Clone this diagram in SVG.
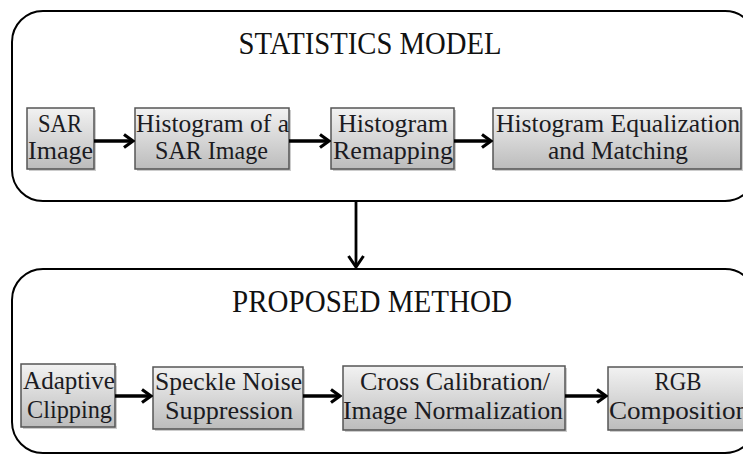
<svg xmlns="http://www.w3.org/2000/svg" width="743" height="455" viewBox="0 0 743 455">
<defs>
<linearGradient id="boxg" x1="0" y1="0" x2="0" y2="1">
<stop offset="0" stop-color="#f2f2f2"/>
<stop offset="1" stop-color="#bcbcbc"/>
</linearGradient>
<marker id="ah" viewBox="0 0 14 16" refX="12" refY="8" markerWidth="14" markerHeight="16" markerUnits="userSpaceOnUse" orient="auto">
<path d="M3,1.5 L12,8 L3,14.5" fill="none" stroke="#000" stroke-width="3.2" stroke-linejoin="miter"/>
</marker>
<marker id="ahv" viewBox="0 0 16 18" refX="14" refY="9" markerWidth="16" markerHeight="18" markerUnits="userSpaceOnUse" orient="auto">
<path d="M3,1.5 L14,9 L3,16.5" fill="none" stroke="#000" stroke-width="3" stroke-linejoin="miter"/>
</marker>
</defs>
<style>
.cont{fill:#fff;stroke:#000;stroke-width:2}
.box{fill:url(#boxg);stroke:#555;stroke-width:1.5}
.shadow{fill:#9a9a9a;opacity:0.5}
.title{font-family:"Liberation Serif","Times New Roman",serif;font-size:32px;fill:#111;text-anchor:middle}
.lbl{font-family:"Liberation Serif","Times New Roman",serif;font-size:25px;fill:#1b1b22;text-anchor:middle}
.conn{stroke:#000;stroke-width:3.5;fill:none;marker-end:url(#ah)}
.connv{stroke:#000;stroke-width:2.8;fill:none;marker-end:url(#ahv)}
</style>
<rect width="743" height="455" fill="#fff"/>

<g id="statistics-model">
<rect class="cont" x="12" y="11" width="744" height="190" rx="31" ry="31"/>
<text class="title" x="370" y="54" textLength="263" lengthAdjust="spacingAndGlyphs">STATISTICS MODEL</text>
</g>

<g id="proposed-method">
<rect class="cont" x="12" y="269" width="744" height="184" rx="31" ry="31"/>
<text class="title" x="372" y="312" textLength="280" lengthAdjust="spacingAndGlyphs">PROPOSED METHOD</text>
</g>

<g id="sar-image">
<rect class="shadow" x="29" y="110" width="67" height="61"/>
<rect class="box" x="27" y="108" width="67" height="61"/>
<text class="lbl" x="60" y="132" textLength="44" lengthAdjust="spacingAndGlyphs">SAR</text>
<text class="lbl" x="60.5" y="159" textLength="65" lengthAdjust="spacingAndGlyphs">Image</text>
</g>

<g id="histogram-of-sar">
<rect class="shadow" x="137" y="110" width="154" height="61"/>
<rect class="box" x="135" y="108" width="154" height="61"/>
<text class="lbl" x="212.5" y="132" textLength="153" lengthAdjust="spacingAndGlyphs">Histogram of a</text>
<text class="lbl" x="211.5" y="159" textLength="113" lengthAdjust="spacingAndGlyphs">SAR Image</text>
</g>

<g id="histogram-remapping">
<rect class="shadow" x="333" y="110" width="123" height="61"/>
<rect class="box" x="331" y="108" width="123" height="61"/>
<text class="lbl" x="393" y="132" textLength="110" lengthAdjust="spacingAndGlyphs">Histogram</text>
<text class="lbl" x="393" y="159" textLength="120" lengthAdjust="spacingAndGlyphs">Remapping</text>
</g>

<g id="histogram-equalization">
<rect class="shadow" x="495" y="110" width="248" height="61"/>
<rect class="box" x="493" y="108" width="248" height="61"/>
<text class="lbl" x="618" y="132" textLength="244" lengthAdjust="spacingAndGlyphs">Histogram Equalization</text>
<text class="lbl" x="618" y="159" textLength="140" lengthAdjust="spacingAndGlyphs">and Matching</text>
</g>

<g id="adaptive-clipping">
<rect class="shadow" x="23" y="366" width="94" height="63"/>
<rect class="box" x="21" y="364" width="94" height="63"/>
<text class="lbl" x="69" y="389" textLength="92" lengthAdjust="spacingAndGlyphs">Adaptive</text>
<text class="lbl" x="69.5" y="418" textLength="85" lengthAdjust="spacingAndGlyphs">Clipping</text>
</g>

<g id="speckle-noise">
<rect class="shadow" x="155" y="369" width="150" height="62"/>
<rect class="box" x="153" y="367" width="150" height="62"/>
<text class="lbl" x="228.5" y="390" textLength="147" lengthAdjust="spacingAndGlyphs">Speckle Noise</text>
<text class="lbl" x="229" y="419" textLength="128" lengthAdjust="spacingAndGlyphs">Suppression</text>
</g>

<g id="cross-calibration">
<rect class="shadow" x="345" y="368" width="222" height="64"/>
<rect class="box" x="343" y="366" width="222" height="64"/>
<text class="lbl" x="455" y="390" textLength="190" lengthAdjust="spacingAndGlyphs">Cross Calibration/</text>
<text class="lbl" x="453" y="419" textLength="220" lengthAdjust="spacingAndGlyphs">Image Normalization</text>
</g>

<g id="rgb-composition">
<rect class="shadow" x="610" y="369" width="150" height="63"/>
<rect class="box" x="608" y="367" width="150" height="63"/>
<text class="lbl" x="678" y="390" textLength="47" lengthAdjust="spacingAndGlyphs">RGB</text>
<text class="lbl" x="679" y="419" textLength="140" lengthAdjust="spacingAndGlyphs">Composition</text>
</g>

<g id="connectors">
<line class="conn" x1="94" y1="141" x2="133" y2="141"/>
<line class="conn" x1="289" y1="141" x2="329" y2="141"/>
<line class="conn" x1="454" y1="141" x2="491" y2="141"/>
<line class="connv" x1="356" y1="201" x2="356" y2="267"/>
<line class="conn" x1="115" y1="396" x2="151" y2="396"/>
<line class="conn" x1="303" y1="396" x2="340" y2="396"/>
<line class="conn" x1="565" y1="396" x2="606" y2="396"/>
</g>
</svg>
